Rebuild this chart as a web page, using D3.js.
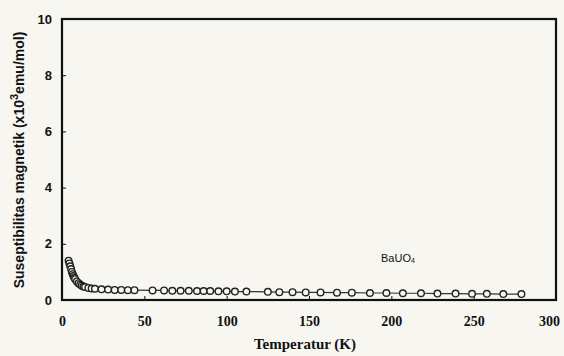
<!DOCTYPE html>
<html><head><meta charset="utf-8">
<script src="https://cdn.jsdelivr.net/npm/d3@7"></script>
<style>body{margin:0;background:#f7f6f1}svg{display:block}</style>
</head><body>
<script>
const temperature = [4,4.5,5,5.5,6,6.5,7,7.5,8,9,10,11,12,13,14,16,18,20,24,28,32,36,40,44,55,62,67,72,77,82,86,90,95,100,105,112,125,132,140,148,157,167,176,187,197,207,218,228,239,249,258,268,279];
const chi = [1.4,1.3,1.2,1.1,1.0,0.92,0.85,0.79,0.74,0.66,0.6,0.55,0.51,0.48,0.46,0.43,0.41,0.4,0.38,0.37,0.36,0.36,0.35,0.35,0.34,0.34,0.33,0.33,0.33,0.32,0.32,0.32,0.31,0.31,0.3,0.3,0.29,0.28,0.28,0.27,0.27,0.26,0.26,0.25,0.25,0.24,0.24,0.23,0.23,0.22,0.22,0.21,0.21];
const xTicks = [0,50,100,150,200,250,300];
const yTicks = [0,2,4,6,8,10];
const W=564,H=356;
const svg=d3.select("body").append("svg").attr("width",W).attr("height",H);
const x=d3.scaleLinear().domain([0,300]).range([62,556]);
const y=d3.scaleLinear().domain([0,10]).range([300,19]);
// frame
svg.append("rect").attr("x",62).attr("y",19).attr("width",494).attr("height",281)
 .attr("fill","none").attr("stroke","#111").attr("stroke-width",2.2);
// axes
const xa=svg.append("g").attr("transform","translate(0,300)")
 .call(d3.axisBottom(x).tickValues(xTicks).tickSize(-4).tickPadding(16).tickFormat(d3.format("d")));
xa.select(".domain").remove();
xa.selectAll("text").attr("font-family","'Liberation Serif',serif").attr("font-weight","bold").attr("font-size",14).attr("fill","#111");
xa.selectAll(".tick").filter(d=>d===300).select("text").attr("dx",-7);
xa.selectAll("line").attr("stroke","#111");
const ya=svg.append("g").attr("transform","translate(62,0)")
 .call(d3.axisLeft(y).tickValues(yTicks).tickSize(-4).tickPadding(10).tickFormat(d3.format("d")));
ya.select(".domain").remove();
ya.selectAll("text").attr("font-family","'Liberation Sans',sans-serif").attr("font-weight","bold").attr("font-size",13).attr("fill","#111");
ya.selectAll("line").attr("stroke","#111");
// data
svg.append("path").datum(temperature.map((t,i)=>[t,chi[i]]))
 .attr("d",d3.line().x(d=>x(d[0])).y(d=>y(d[1])))
 .attr("fill","none").attr("stroke","#333").attr("stroke-width",1.2);
svg.append("g").selectAll("circle").data(temperature.map((t,i)=>[t,chi[i]])).join("circle")
 .attr("cx",d=>x(d[0])).attr("cy",d=>y(d[1])).attr("r",3.3)
 .attr("fill","#f7f6f1").attr("stroke","#222").attr("stroke-width",1.4);
// labels
svg.append("text").attr("x",381).attr("y",262).attr("font-family","'Liberation Sans',sans-serif")
 .attr("font-size",11).attr("fill","#111").text("BaUO").append("tspan").attr("font-size",7).attr("dy",1).text("4");
svg.append("text").attr("x",305).attr("y",349).attr("text-anchor","middle")
 .attr("font-family","'Liberation Serif',serif").attr("font-weight","bold").attr("font-size",15).attr("fill","#111")
 .text("Temperatur (K)");
const yl=svg.append("text").attr("transform","translate(24,160) rotate(-90)").attr("text-anchor","middle")
 .attr("font-family","'Liberation Sans',sans-serif").attr("font-weight","bold").attr("font-size",14).attr("fill","#111");
yl.append("tspan").text("Suseptibilitas magnetik (x10");
yl.append("tspan").attr("dy",-6).attr("font-size",11).text("3");
yl.append("tspan").attr("dy",6).text("emu/mol)");
</script>
</body></html>
